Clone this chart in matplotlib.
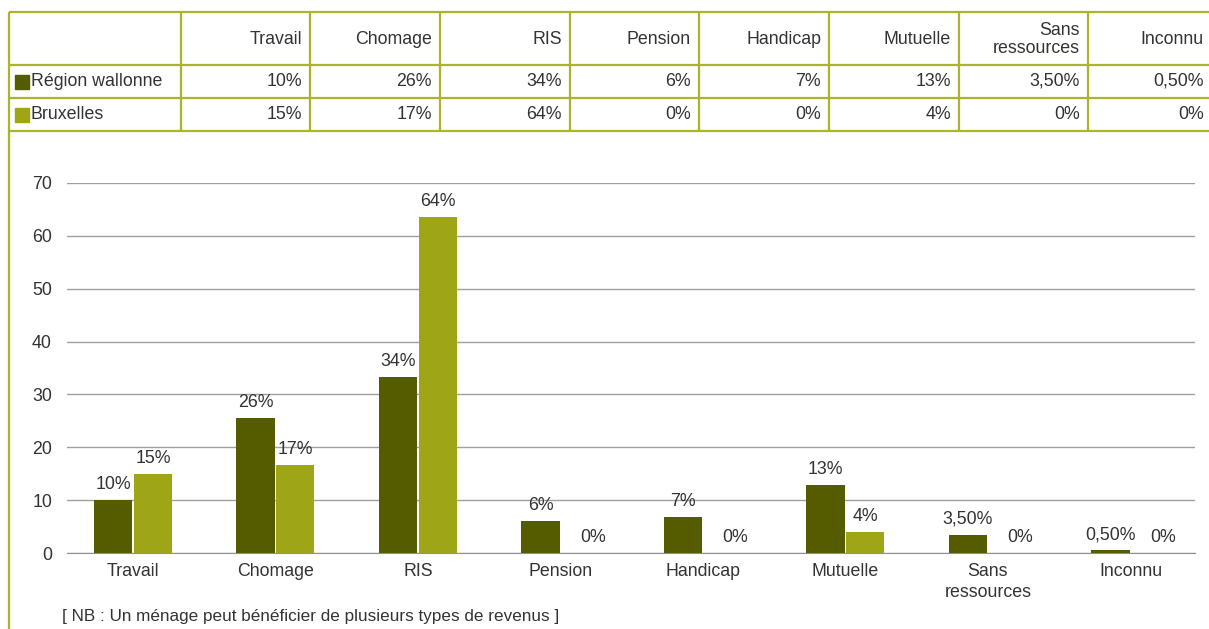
import matplotlib.pyplot as plt
import numpy as np

# data
categories = ['Travail', 'Chomage', 'RIS', 'Pension', 'Handicap', 'Mutuelle', 'Sans\nressources', 'Inconnu']
series_names = ['Région wallonne', 'Bruxelles']
wallonie = [10, 25.6, 33.3, 6, 6.8, 12.9, 3.5, 0.5]
bruxelles = [15, 16.7, 63.6, 0, 0, 4, 0, 0]
wallonie_labels = ['10%', '26%', '34%', '6%', '7%', '13%', '3,50%', '0,50%']
bruxelles_labels = ['15%', '17%', '64%', '0%', '0%', '4%', '0%', '0%']
yticks = [0, 10, 20, 30, 40, 50, 60, 70]
footnote = '[ NB : Un ménage peut bénéficier de plusieurs types de revenus ]'

dark = '#555c00'
light = '#9ea617'
border = '#aab52c'
txt = '#333333'

plt.rcParams['font.family'] = ['Liberation Sans', 'DejaVu Sans']

W, H = 1209, 629
fig = plt.figure(figsize=(W / 100, H / 100), dpi=100)

# table drawn in pixel coordinates on a full-figure axes
tab = fig.add_axes([0, 0, 1, 1])
tab.set_xlim(0, W)
tab.set_ylim(H, 0)
tab.axis('off')

cols = [9, 181, 310, 440, 570, 699, 829, 959, 1088, 1216]
rows = [12, 65, 98, 131]
for x in cols:
    tab.plot([x, x], [rows[0], rows[-1]], color=border, lw=1.6, solid_capstyle='butt')
for y in rows:
    tab.plot([cols[0], cols[-1]], [y, y], color=border, lw=1.6, solid_capstyle='butt')
# outer frame continues down on the left
tab.plot([9, 9], [rows[-1], H], color=border, lw=1.6)

# right edge of text in each column (last one is cut by the image border)
text_right = [min(c - 8, W - 5) for c in cols[2:]]

fs = 12.8
for i, cat in enumerate(categories):
    tab.text(text_right[i], (rows[0] + rows[1]) / 2 + 1, cat, ha='right', va='center',
             fontsize=fs, color=txt, linespacing=1.1)
for r, (name, labels, col) in enumerate(zip(series_names, [wallonie_labels, bruxelles_labels], [dark, light])):
    yc = (rows[r + 1] + rows[r + 2]) / 2
    tab.add_patch(plt.Rectangle((15, yc - 7), 14, 14, color=col))
    tab.text(31, yc, name, ha='left', va='center', fontsize=fs, color=txt)
    for i, lab in enumerate(labels):
        tab.text(text_right[i], yc, lab, ha='right', va='center', fontsize=fs, color=txt)

# bar chart
x0, x1, y0, y1 = 67, 1195, 183, 553
ax = fig.add_axes([x0 / W, 1 - y1 / H, (x1 - x0) / W, (y1 - y0) / H])
x = np.arange(len(categories))
bw = 0.267
off = 0.14
b1 = ax.bar(x - off, wallonie, bw, color=dark, zorder=3)
b2 = ax.bar(x + off, bruxelles, bw, color=light, zorder=3)

for bars, labels in [(b1, wallonie_labels), (b2, bruxelles_labels)]:
    for rect, lab in zip(bars, labels):
        h = rect.get_height()
        dx = 9 if h == 0 else 0
        ax.annotate(lab, (rect.get_x() + rect.get_width() / 2, h), xytext=(dx, 5),
                    textcoords='offset points', ha='center', va='bottom',
                    fontsize=fs, color=txt)

ax.set_xlim(-0.463, 7.453)
ax.set_ylim(0, 70)
ax.set_yticks(yticks)
ax.set_xticks(x)
ax.set_xticklabels(categories, fontsize=fs, color=txt, linespacing=1.35)
ax.tick_params(axis='y', length=0, pad=10.8, labelsize=fs, labelcolor=txt)
ax.tick_params(axis='x', length=0, pad=7)
ax.grid(axis='y', color='#a0a0a0', lw=1, zorder=0)
for s in ['top', 'right', 'left']:
    ax.spines[s].set_visible(False)
ax.spines['bottom'].set_color('#909090')
ax.set_facecolor('none')

fig.text(62 / W, 1 - 617 / H, footnote, ha='left', va='center', fontsize=12.3, color=txt)

fig.savefig('out.png', dpi=100)
